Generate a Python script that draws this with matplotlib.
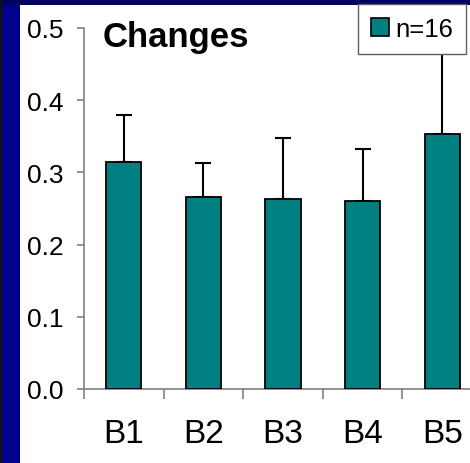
import matplotlib
matplotlib.use("Agg")
import matplotlib.pyplot as plt
from matplotlib.patches import Rectangle, Patch
from matplotlib.ticker import FixedLocator, FormatStrFormatter

categories = ["B1", "B2", "B3", "B4", "B5"]
values = [0.315, 0.266, 0.263, 0.261, 0.353]
errors = [0.065, 0.047, 0.085, 0.072, 0.16]
yticks = [0.0, 0.1, 0.2, 0.3, 0.4, 0.5]
title = "Changes"
legend_label = "n=16"

plt.rcParams['font.family'] = ['Liberation Sans', 'DejaVu Sans']

W, H = 470, 464
fig = plt.figure(figsize=(W / 100, H / 100), dpi=100)
fig.patch.set_facecolor('#00008C')

# darker top band and white panel
fig.patches.append(Rectangle((0, 1 - 6 / H), 1, 6 / H, transform=fig.transFigure,
                             facecolor='#000060', edgecolor='none', zorder=-2))
fig.patches.append(Rectangle((0, 0), 1.5 / W, 1, transform=fig.transFigure,
                             facecolor='#101010', edgecolor='none', zorder=-2))
fig.patches.append(Rectangle((20 / W, 0), 1, (H - 6) / H, transform=fig.transFigure,
                             facecolor='white', edgecolor='none', zorder=-2))

ax = fig.add_axes([84 / W, 74 / H, 398 / W, 361 / H])
ax.set_zorder(1)
ax.set_facecolor('none')

x = list(range(len(categories)))
ax.bar(x, values, width=0.44, color='#008080', edgecolor='black', linewidth=1.3, zorder=3)
ax.errorbar(x, values, yerr=[[0] * len(values), errors], fmt='none', ecolor='black',
            elinewidth=1.5, capsize=6, capthick=1.5, zorder=2)

ax.set_xlim(-0.5, len(categories) - 0.5)
ax.set_ylim(0, 0.5)

for s in ['top', 'right']:
    ax.spines[s].set_visible(False)
for s in ['left', 'bottom']:
    ax.spines[s].set_color('#808080')
    ax.spines[s].set_linewidth(1.2)

ax.yaxis.set_major_locator(FixedLocator(yticks))
ax.yaxis.set_major_formatter(FormatStrFormatter('%.1f'))
ax.tick_params(axis='y', direction='out', length=5, width=1.2, color='#808080',
               labelsize=19, pad=9.5, labelcolor='black')

ax.set_xticks([i - 0.5 for i in range(len(categories) + 1)])
ax.set_xticklabels([])
ax.set_xticks(x, minor=True)
ax.set_xticklabels(categories, minor=True)
ax.tick_params(axis='x', which='major', direction='out', length=7.5, width=1.2, color='#808080')
ax.tick_params(axis='x', which='minor', length=0, labelsize=24, pad=21)

fig.text(103 / W, 1 - 47 / H, title, fontsize=25, fontweight='bold', ha='left',
         va='baseline', color='black', zorder=5)

leg = fig.legend(handles=[Patch(facecolor='#008080', edgecolor='black', linewidth=1.2,
                                label=legend_label)],
                 loc='upper right', bbox_to_anchor=(466 / W, 1 - 5 / H),
                 fontsize=18.5, frameon=True, fancybox=False, borderaxespad=0,
                 handlelength=0.7, handleheight=0.7, handletextpad=0.25,
                 borderpad=0.5)
leg.get_frame().set_edgecolor('#606060')
leg.get_frame().set_linewidth(1.0)
leg.get_frame().set_facecolor('white')
leg.get_frame().set_alpha(1)
leg.set_zorder(10)

fig.savefig('out.png', dpi=100, facecolor=fig.get_facecolor())
